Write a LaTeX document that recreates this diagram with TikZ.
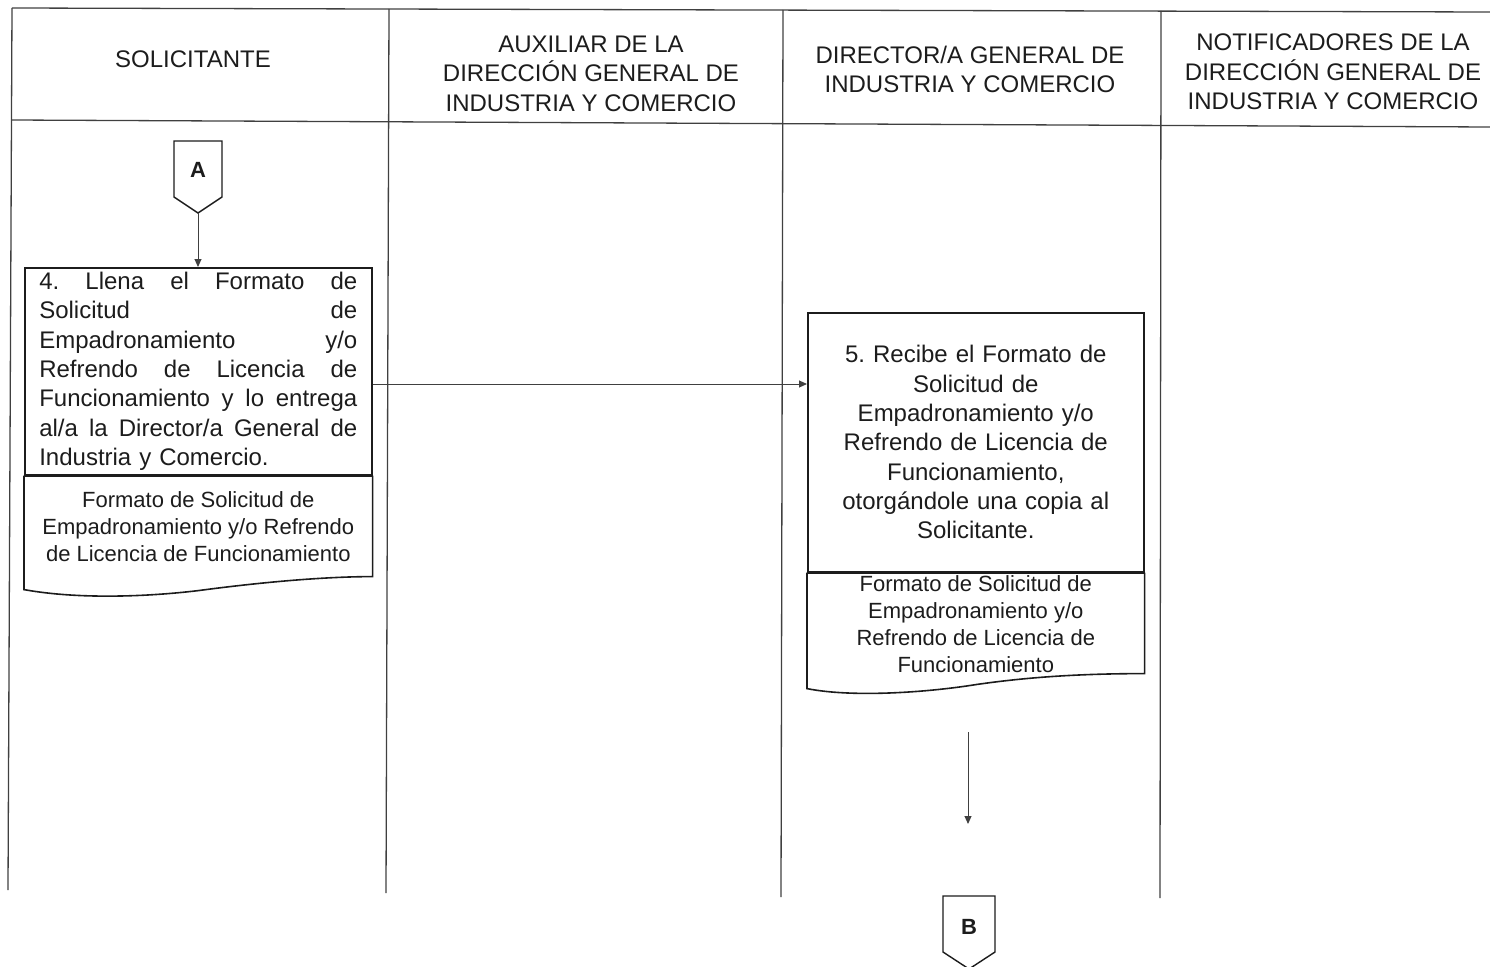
\documentclass[tikz,border=0pt]{standalone}
\usepackage{fontspec}
\setmainfont{Liberation Sans}
\usetikzlibrary{arrows.meta,calc}
\definecolor{ink}{HTML}{1C1C1C}
\definecolor{rule}{HTML}{404040}
% one justified line of fixed width: interword spaces stretch to fill it
\newcommand\fillline[1]{\leavevmode\hbox to 318pt{\frenchspacing\spaceskip=0.28em plus 1fil\relax #1}}

\begin{document}
\begin{tikzpicture}[x=1pt,y=-1pt,
  grid/.style={draw=rule, line width=1.3pt},
  head/.style={align=center, font=\fontsize{24}{29.5}\selectfont, text=ink, inner sep=0},
  procbox/.style={draw=ink, line width=1.6pt, rectangle, anchor=north west, inner ysep=0pt,
    text=ink, font=\fontsize{24}{29.3}\selectfont},
  sepline/.style={draw=ink, line width=3pt},
  docline/.style={draw=ink, line width=1.6pt},
  doctext/.style={align=center, anchor=north, inner sep=0, text=ink, font=\fontsize{22}{27}\selectfont},
  flow/.style={draw=rule, line width=1pt, -{Triangle[length=8pt,width=7pt]}},
  offpage/.style={draw=ink, line width=1.4pt, line join=miter},
  letter/.style={font=\fontsize{22}{26}\selectfont\bfseries, text=ink, inner sep=0}
]
\useasboundingbox (0,0) rectangle (1490,966);

% swimlane frame
\draw[grid] (12,8) -- (1490,12);
\draw[grid] (12,120) -- (1490,127);
\draw[grid] (12,8) -- (8,890);
\draw[grid] (389,9) -- (386,893);
\draw[grid] (783,10) -- (781,897);
\draw[grid] (1161,11) -- (1160,898);

% lane headers
\node[head] (hSol) at (193,59) {SOLICITANTE};
\node[head] (hAux) at (591,73.5) {AUXILIAR DE LA\\DIRECCIÓN GENERAL DE\\INDUSTRIA Y COMERCIO};
\node[head] (hDir) at (970,69.5) {DIRECTOR/A GENERAL DE\\INDUSTRIA Y COMERCIO};
\node[head] (hNot) at (1333,72) {NOTIFICADORES DE LA\\DIRECCIÓN GENERAL DE\\INDUSTRIA Y COMERCIO};

% off-page connector A
\coordinate (Atop) at (198,141);
\draw[offpage] ($(Atop)+(-24,0)$) -- ++(48,0) -- ++(0,56) -- ++(-24,16) -- ++(-24,-16) -- cycle;
\node[letter] (Alab) at ($(Atop)+(0,29)$) {A};
\coordinate (Atip) at ($(Atop)+(0,72)$);

% step 4
\node[procbox, text width=318pt, inner xsep=14.5pt, minimum height=207pt, align=left] (b4) at (24,267)
  {\fillline{4. Llena el Formato de}\\
   \fillline{Solicitud de}\\
   \fillline{Empadronamiento y/o}\\
   \fillline{Refrendo de Licencia de}\\
   \fillline{Funcionamiento y lo entrega}\\
   \fillline{al/a la Director/a General de}\\
   Industria y Comercio.};
\draw[sepline] (b4.south west) -- (b4.south east);
\draw[docline] (b4.south west) -- ++(0,114)
  .. controls +(55,10) and +(-50,6) .. ($(b4.south)+(0,115)$)
  .. controls +(60,-8) and +(-50,0) .. ($(b4.south east)+(0,101)$) -- (b4.south east);
\node[doctext] (d4) at ($(b4.south)+(0,16)$)
  {Formato de Solicitud de\\Empadronamiento y/o Refrendo\\de Licencia de Funcionamiento};

% step 5
\node[procbox, text width=300pt, inner xsep=18pt, minimum height=259pt, align=center] (b5) at (807,312)
  {\frenchspacing 5. Recibe el Formato de\\Solicitud de\\Empadronamiento y/o\\Refrendo de Licencia de\\Funcionamiento,\\otorgándole una copia al\\Solicitante.};
\draw[sepline] (b5.south west) -- (b5.south east);
\draw[docline] (b5.south west) -- ++(0,116)
  .. controls +(45,9) and +(-50,8) .. ($(b5.south)+(0,112)$)
  .. controls +(55,-8) and +(-60,0) .. ($(b5.south east)+(0,101)$) -- (b5.south east);
\node[doctext] (d5) at ($(b5.south)+(0,3)$)
  {Formato de Solicitud de\\Empadronamiento y/o\\Refrendo de Licencia de\\Funcionamiento};

% off-page connector B
\coordinate (Btop) at (969,896);
\draw[offpage] ($(Btop)+(-26,0)$) -- ++(52,0) -- ++(0,56) -- ++(-26,17) -- ++(-26,-17) -- cycle;
\node[letter] (Blab) at ($(Btop)+(0,31)$) {B};

% flow
\draw[flow] (Atip) -- (Atip |- b4.north);
\coordinate (hy) at (0,384);
\draw[flow] (b4.east |- hy) -- (b5.west |- hy);
\coordinate (dA) at (968,732);
\coordinate (dB) at (968,824);
\draw[flow] (dA) -- (dB);
\end{tikzpicture}
\end{document}
